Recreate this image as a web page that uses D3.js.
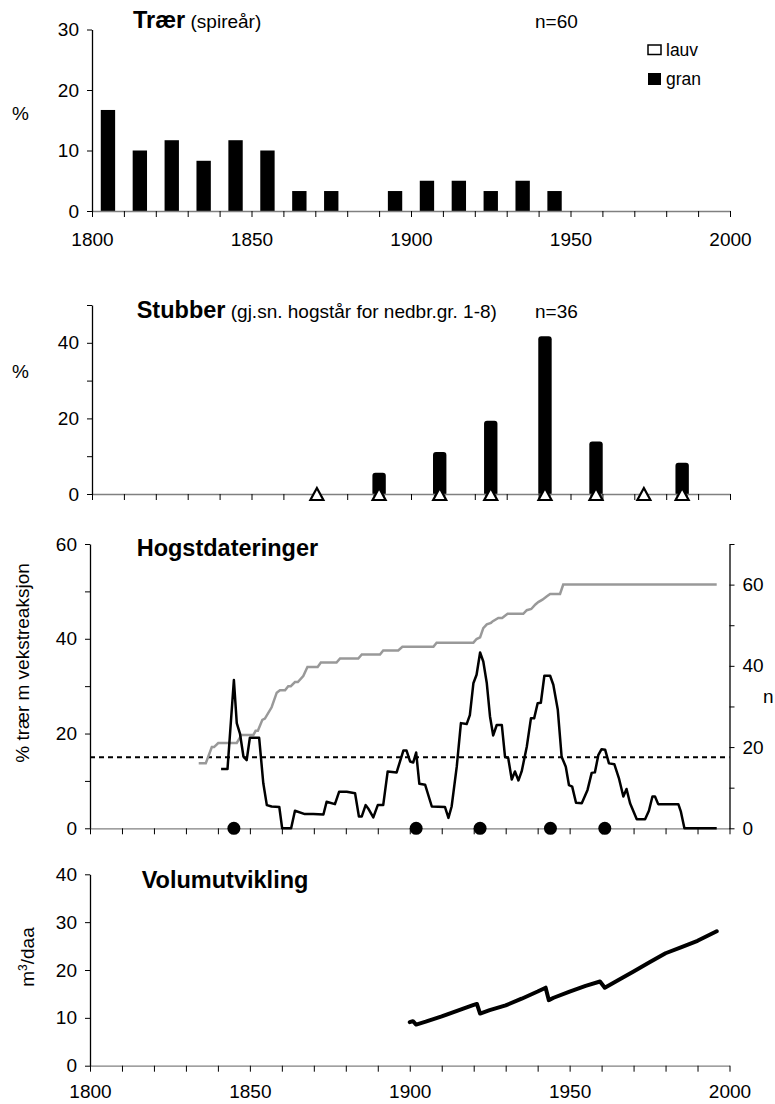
<!DOCTYPE html>
<meta charset="utf-8">
<script src="https://d3js.org/d3.v7.min.js"></script>
<style>
  body { margin: 0; background: #fff; }
  text { font-family: "Liberation Sans", Arial, sans-serif; fill: #000; }
</style>
<div id="my_dataviz"></div>
<script>

// ---- data ----
// Trær (spireår), % of n=60 per decade
var treYears = [1805, 1815, 1825, 1835, 1845, 1855, 1865, 1875, 1885, 1895, 1905, 1915, 1925, 1935, 1945];
var treGran  = [16.7, 10, 11.7, 8.3, 11.7, 10, 3.3, 3.3, 0, 3.3, 5, 5, 3.3, 5, 3.3];

// Stubber, % of n=36
var stubYears = [1890, 1909, 1925, 1942, 1958, 1985];
var stubVals  = [5.6, 11.1, 19.4, 41.7, 13.9, 8.3];
var stubMarks = [1870.5, 1890, 1909, 1925, 1942, 1958, 1973, 1985];

// Hogstdateringer: % trær m vekstreaksjon
var pctYears = [1841, 1843, 1845, 1845.9, 1846.9, 1848, 1849, 1850, 1852.9, 1854.2, 1855.3, 1856.8, 1859.2, 1860.1,
  1862.9, 1864.1, 1867.2, 1869.8, 1873, 1874, 1876.6, 1877.9, 1880.3, 1882.9, 1884.1, 1885, 1886.2, 1887, 1888.6,
  1890, 1891.7, 1893.1, 1895.9, 1898, 1899, 1900.1, 1901.1, 1902, 1903, 1904.8, 1906.9, 1911, 1912.1, 1913.1,
  1914.7, 1916, 1917.8, 1918.8, 1919.9, 1920.9, 1922, 1923, 1924.1, 1925.1, 1926.1, 1927.2, 1928.8, 1929.8,
  1930.8, 1931.9, 1932.9, 1934, 1935, 1936.6, 1937.9, 1938.9, 1940, 1941, 1942.1, 1943.9, 1944.9, 1946.3,
  1947.5, 1948.8, 1949.8, 1950.8, 1952, 1953.8, 1955.6, 1956.9, 1957.9, 1959, 1960, 1961.1, 1962.3, 1964,
  1965.4, 1966.8, 1967.8, 1968.9, 1971, 1973.6, 1974.8, 1975.9, 1976.7, 1977.7, 1984, 1984.8, 1985.9, 1996];
var pctVals = [12.5, 12.5, 31.3, 22.2, 20, 15.1, 14.4, 19.1, 19.1, 9.5, 4.9, 4.6, 4.5, 0,
  0, 3.7, 3.0, 3.0, 2.9, 5.6, 5.1, 7.7, 7.7, 7.4, 2.5, 2.5, 4.9, 4.2, 2.3,
  4.9, 4.9, 12.0, 11.8, 16.4, 16.4, 14.1, 13.9, 16.0, 9.4, 9.2, 4.6, 4.5, 2.2, 4.6,
  13.0, 22.2, 22.0, 23.9, 30.6, 32.4, 37.1, 35.2, 30.6, 23.6, 19.6, 21.8, 21.8, 15.1,
  14.8, 10.3, 12.0, 10.1, 12.0, 17.2, 23.2, 23.2, 26.4, 26.5, 32.2, 32.2, 30.3, 25.0,
  15.1, 13.0, 9.1, 8.8, 5.4, 5.3, 8.1, 11.7, 11.8, 15.5, 16.7, 16.6, 13.7, 13.5,
  10.6, 6.7, 8.3, 5.3, 1.9, 1.9, 3.7, 6.7, 6.7, 5.1, 5.1, 3.5, 0, 0];

// Hogstdateringer: n (right axis)
var nYears = [1834, 1836.2, 1838.1, 1838.8, 1840.1, 1845.9, 1847.4, 1851.1, 1851.8, 1852.5, 1853.9, 1854.7,
  1856.8, 1858.4, 1859.4, 1861, 1862, 1862.8, 1864.1, 1865, 1866.7, 1868, 1871.2, 1872.2, 1877.1, 1878.2,
  1883.9, 1885, 1890.7, 1891.7, 1896.4, 1897.7, 1907.4, 1908.4, 1919.9, 1920.9, 1922, 1923, 1924.1, 1925.4,
  1926, 1927.7, 1928.9, 1930.6, 1935.5, 1936.6, 1938, 1939.3, 1940.2, 1941.5, 1942.8, 1943.9, 1947, 1948, 1996];
var nVals = [16, 16, 20, 20, 21, 21, 23, 23, 24, 24, 26.7, 27,
  29.8, 33.4, 34, 34, 35, 35, 36, 36, 37.5, 39.7, 39.7, 40.8, 40.8, 41.8,
  41.8, 42.8, 42.8, 43.8, 43.8, 44.7, 44.7, 45.7, 45.7, 46.6, 47, 49.3, 50.2, 50.6,
  51, 51.8, 51.8, 52.8, 52.8, 53.7, 54, 55.1, 55.7, 56.3, 57.1, 57.7, 57.7, 60, 60];

var hogstDots = [1845, 1902, 1922, 1944, 1961];
var threshold = 15;

// Volumutvikling m3/daa
var volYears = [1900, 1901, 1902, 1905, 1910, 1915, 1920, 1921, 1922, 1925, 1930, 1935, 1940, 1942.5, 1943.5,
  1945, 1950, 1955, 1959.5, 1961, 1965, 1970, 1975, 1980, 1985, 1990, 1996];
var volVals = [9.1, 9.3, 8.6, 9.2, 10.3, 11.5, 12.7, 12.9, 10.9, 11.6, 12.6, 14.0, 15.5, 16.3, 13.7,
  14.2, 15.5, 16.7, 17.6, 16.3, 17.8, 19.7, 21.6, 23.5, 24.8, 26.1, 28.1];

var decades = d3.range(1800, 2001, 10);

// ---- svg ----
var svg = d3.select("#my_dataviz")
  .append("svg")
    .attr("width", 775)
    .attr("height", 1104);

var FS = 19;

// x scales (top two panels sit slightly right of the lower two)
var xA = d3.scaleLinear().domain([1800, 2000]).range([92, 730]);
var xB = d3.scaleLinear().domain([1800, 2000]).range([90, 729.5]);

var y1 = d3.scaleLinear().domain([0, 30]).range([211, 29.5]);
var y2 = d3.scaleLinear().domain([0, 50]).range([494, 305]);
var y3 = d3.scaleLinear().domain([0, 60]).range([828.3, 544]);
var y3r = d3.scaleLinear().domain([0, 70]).range([828.3, 544]);
var y4 = d3.scaleLinear().domain([0, 40]).range([1065.7, 874.3]);

function styleAxis(g, domainColor) {
  g.select(".domain").attr("stroke", domainColor).attr("stroke-width", 1.3);
  g.selectAll(".tick line").attr("stroke", "#000");
  g.selectAll("text").attr("font-size", FS).attr("font-family", null);
}

function xAxis(x, y, labels, pad) {
  var g = svg.append("g")
    .attr("transform", "translate(0," + y(0) + ")")
    .call(d3.axisBottom(x).tickValues(decades).tickSize(6).tickSizeOuter(0).tickPadding(pad)
      .tickFormat(function(d) { return labels && d % 50 === 0 ? d : ""; }));
  styleAxis(g, "#808080");
}

function yAxis(y, max, every, right, xpos) {
  var ax = right ? d3.axisRight(y) : d3.axisLeft(y);
  var g = svg.append("g")
    .attr("transform", "translate(" + xpos + ",0)")
    .call(ax.tickValues(d3.range(0, max + 1, 10)).tickSize(5).tickSizeOuter(0).tickPadding(8)
      .tickFormat(function(d) { return d % every === 0 && d <= (right ? 60 : max) ? d : ""; }));
  styleAxis(g, "#000");
}

function title(x, y, bold, rest) {
  var t = svg.append("text").attr("x", x).attr("y", y);
  t.append("tspan").attr("font-weight", "bold").attr("font-size", 23.5).text(bold);
  if (rest) t.append("tspan").attr("font-size", 19).text(" " + rest);
}

// ---- panel 1: Trær ----
svg.append("g").selectAll("rect")
  .data(treYears)
  .enter().append("rect")
    .attr("x", function(d) { return xA(d - 2.25); })
    .attr("width", xA(1804.5) - xA(1800))
    .attr("y", function(d, i) { return y1(treGran[i]); })
    .attr("height", function(d, i) { return y1(0) - y1(treGran[i]); })
    .attr("fill", "#000");

xAxis(xA, y1, true, 16);
yAxis(y1, 30, 10, false, xA(1800));
title(133, 27.5, "Trær", "(spireår)");
svg.append("text").attr("x", 535).attr("y", 28).attr("font-size", FS).text("n=60");
svg.append("text").attr("x", 12).attr("y", 120).attr("font-size", FS).text("%");

// legend
svg.append("rect").attr("x", 648).attr("y", 45).attr("width", 13).attr("height", 9.5)
  .attr("fill", "#fff").attr("stroke", "#000").attr("stroke-width", 1.5);
svg.append("text").attr("x", 666).attr("y", 56).attr("font-size", 17.5).text("lauv");
svg.append("rect").attr("x", 648).attr("y", 73).attr("width", 13).attr("height", 12).attr("fill", "#000");
svg.append("text").attr("x", 666).attr("y", 85).attr("font-size", 17.5).text("gran");

// ---- panel 2: Stubber ----
svg.append("g").selectAll("rect")
  .data(stubYears)
  .enter().append("rect")
    .attr("x", function(d) { return xA(d - 2.1); })
    .attr("width", xA(1804.2) - xA(1800))
    .attr("y", function(d, i) { return y2(stubVals[i]); })
    .attr("height", function(d, i) { return y2(0) - y2(stubVals[i]) + 2; })
    .attr("rx", 3)
    .attr("fill", "#000");

xAxis(xA, y2, false, 16);
yAxis(y2, 50, 20, false, xA(1800));

svg.append("g").selectAll("path")
  .data(stubMarks)
  .enter().append("path")
    .attr("transform", function(d) { return "translate(" + xA(d) + "," + y2(0) + ")"; })
    .attr("d", "M0,-6L6.5,6L-6.5,6Z")
    .attr("fill", "#fff")
    .attr("stroke", "#000")
    .attr("stroke-width", 2.2)
    .attr("stroke-linejoin", "miter");

title(136.7, 317.5, "Stubber", "(gj.sn. hogstår for nedbr.gr. 1-8)");
svg.append("text").attr("x", 535).attr("y", 317.5).attr("font-size", FS).text("n=36");
svg.append("text").attr("x", 12).attr("y", 378).attr("font-size", FS).text("%");

// ---- panel 3: Hogstdateringer ----
xAxis(xB, y3, false, 16);
yAxis(y3, 60, 20, false, xB(1800));
yAxis(y3r, 70, 20, true, xB(2000));

svg.append("line")
  .attr("x1", xB(1800)).attr("x2", xB(2000))
  .attr("y1", y3(threshold)).attr("y2", y3(threshold))
  .attr("stroke", "#000").attr("stroke-width", 2).attr("stroke-dasharray", "5,4");

var nLine = d3.line()
  .x(function(d) { return xB(nYears[d]); })
  .y(function(d) { return y3r(nVals[d]); });
svg.append("path")
  .attr("d", nLine(d3.range(nYears.length)))
  .attr("fill", "none").attr("stroke", "#999").attr("stroke-width", 2.5);

var pctLine = d3.line()
  .x(function(d) { return xB(pctYears[d]); })
  .y(function(d) { return y3(pctVals[d]); });
svg.append("path")
  .attr("d", pctLine(d3.range(pctYears.length)))
  .attr("fill", "none").attr("stroke", "#000").attr("stroke-width", 2.5)
  .attr("stroke-linejoin", "round");

svg.append("g").selectAll("circle")
  .data(hogstDots)
  .enter().append("circle")
    .attr("cx", function(d) { return xB(d); })
    .attr("cy", y3(0))
    .attr("r", 6.5)
    .attr("fill", "#000");

title(136.7, 556, "Hogstdateringer");
svg.append("text")
  .attr("transform", "translate(29,663) rotate(-90)")
  .attr("text-anchor", "middle").attr("font-size", FS)
  .text("% trær m vekstreaksjon");
svg.append("text").attr("x", 763).attr("y", 703).attr("font-size", FS).text("n");

// ---- panel 4: Volumutvikling ----
xAxis(xB, y4, true, 13);
yAxis(y4, 40, 10, false, xB(1800));

var volLine = d3.line()
  .x(function(d) { return xB(volYears[d]); })
  .y(function(d) { return y4(volVals[d]); });
svg.append("path")
  .attr("d", volLine(d3.range(volYears.length)))
  .attr("fill", "none").attr("stroke", "#000").attr("stroke-width", 4)
  .attr("stroke-linejoin", "round").attr("stroke-linecap", "round");

title(141.7, 888, "Volumutvikling");
var ml = svg.append("text")
  .attr("transform", "translate(34,957) rotate(-90)")
  .attr("text-anchor", "middle").attr("font-size", FS);
ml.append("tspan").text("m");
ml.append("tspan").attr("font-size", 12).attr("dy", -7).text("3");
ml.append("tspan").attr("dy", 7).text("/daa");

</script>
